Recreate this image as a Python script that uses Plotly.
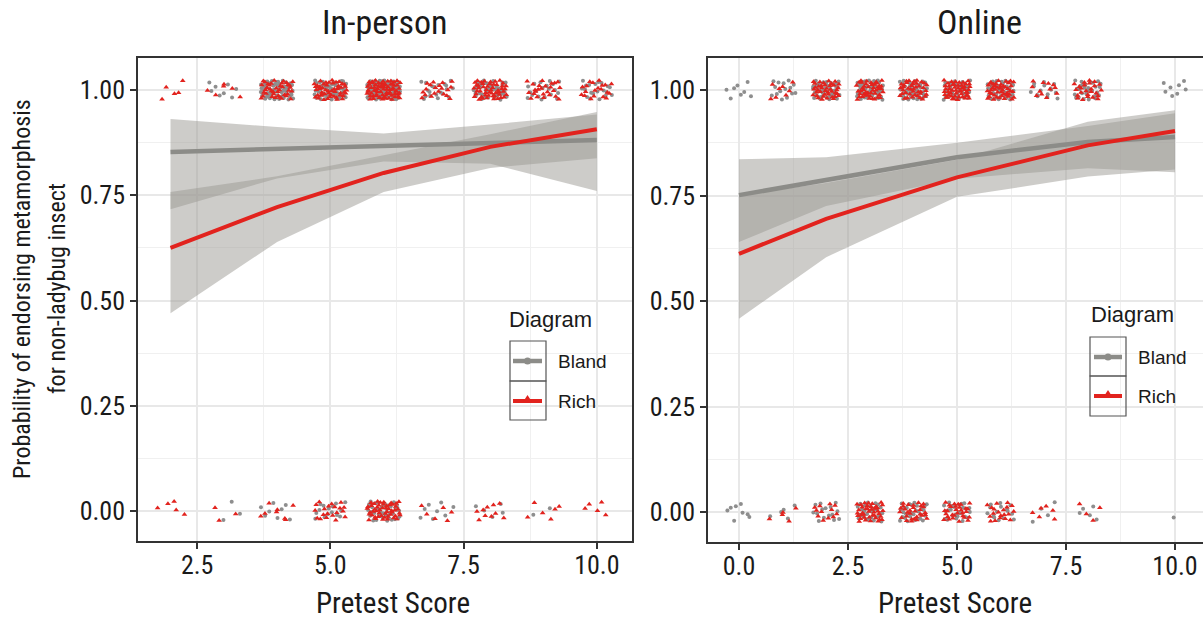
import plotly.graph_objects as go

# ---------------- data ----------------
# In-person panel: pretest scores and counts of participants per outcome
ip_scores = [2, 3, 4, 5, 6, 7, 8, 9, 10]
ip_bland_yes = [0, 8, 60, 50, 90, 20, 40, 20, 20]
ip_rich_yes = [5, 6, 40, 50, 70, 20, 50, 25, 20]
ip_bland_no = [0, 3, 8, 15, 40, 8, 5, 2, 0]
ip_rich_no = [5, 3, 8, 20, 50, 6, 10, 6, 5]

# Online panel
on_scores = [0, 1, 2, 3, 4, 5, 6, 7, 8, 9, 10]
on_bland_yes = [8, 15, 40, 45, 50, 40, 40, 15, 30, 0, 8]
on_rich_yes = [0, 8, 40, 45, 40, 50, 45, 12, 25, 0, 0]
on_bland_no = [8, 5, 15, 30, 30, 25, 15, 4, 5, 0, 1]
on_rich_no = [0, 5, 12, 40, 30, 30, 20, 6, 4, 0, 0]

# fitted probabilities with confidence bands
ip_fit_x = [2, 4, 6, 8, 10]
ip_bland_fit = [0.853, 0.860, 0.867, 0.874, 0.881]
ip_bland_lo = [0.717, 0.790, 0.830, 0.825, 0.760]
ip_bland_hi = [0.931, 0.912, 0.897, 0.918, 0.942]
ip_rich_fit = [0.625, 0.722, 0.803, 0.865, 0.907]
ip_rich_lo = [0.470, 0.639, 0.758, 0.815, 0.838]
ip_rich_hi = [0.758, 0.795, 0.845, 0.895, 0.948]

on_fit_x = [0, 2, 5, 8, 10]
on_bland_fit = [0.751, 0.788, 0.841, 0.877, 0.889]
on_bland_lo = [0.640, 0.725, 0.790, 0.815, 0.805]
on_bland_hi = [0.836, 0.841, 0.875, 0.915, 0.945]
on_rich_fit = [0.612, 0.695, 0.793, 0.869, 0.903]
on_rich_lo = [0.458, 0.604, 0.747, 0.795, 0.812]
on_rich_hi = [0.750, 0.780, 0.835, 0.925, 0.952]

y_ticks = [0.0, 0.25, 0.5, 0.75, 1.0]

# ---------------- styling ----------------
GRAY_PT = "#8e8e8e"
GRAY_LINE = "#8c8c88"
RED = "#e2231e"
RIBBON = "rgba(155,154,148,0.5)"
AXIS_FONT = "Liberation Sans Narrow, Roboto Condensed, DejaVu Sans Condensed, Arial Narrow, sans-serif"
REG_FONT = "Liberation Sans, Arial, Helvetica, sans-serif"
TXT = "#1a1a1a"

W, H = 1203, 619


def px_x(p):
    return p / W


def px_y(p):
    return 1 - p / H


def halton(i, base):
    f, r = 1.0, 0.0
    while i > 0:
        f /= base
        r += f * (i % base)
        i //= base
    return r


def jittered(scores, counts, outcome, start):
    xs, ys = [], []
    idx = start
    for s, c in zip(scores, counts):
        for _ in range(c):
            idx += 1
            xs.append(s + (halton(idx, 2) - 0.5) * 0.62)
            ys.append(outcome + (halton(idx, 3) - 0.5) * 0.046)
    return xs, ys


fig = go.Figure()


def add_panel(xa, ya, scores, by, ry, bn, rn, fx, bf, bl, bh, rf, rl, rh, start):
    for counts_list, outcome, color, sym, size, off in [
        (by, 1, GRAY_PT, "circle", 4, start),
        (bn, 0, GRAY_PT, "circle", 4, start + 700),
        (ry, 1, RED, "triangle-up", 5, start + 1400),
        (rn, 0, RED, "triangle-up", 5, start + 2100),
    ]:
        px, py = jittered(scores, counts_list, outcome, off)
        fig.add_trace(go.Scatter(x=px, y=py, mode="markers", xaxis=xa, yaxis=ya,
                                 marker=dict(color=color, symbol=sym, size=size, line=dict(width=0)),
                                 showlegend=False, hoverinfo="skip"))
    for lo, hi in [(bl, bh), (rl, rh)]:
        fig.add_trace(go.Scatter(x=list(fx) + list(fx)[::-1], y=list(lo) + list(hi)[::-1],
                                 fill="toself", fillcolor=RIBBON, line=dict(width=0),
                                 mode="lines", xaxis=xa, yaxis=ya, showlegend=False, hoverinfo="skip"))
    fig.add_trace(go.Scatter(x=fx, y=bf, mode="lines", line=dict(color=GRAY_LINE, width=4.5),
                             xaxis=xa, yaxis=ya, showlegend=False))
    fig.add_trace(go.Scatter(x=fx, y=rf, mode="lines", line=dict(color=RED, width=4),
                             xaxis=xa, yaxis=ya, showlegend=False))


add_panel("x", "y", ip_scores, ip_bland_yes, ip_rich_yes, ip_bland_no, ip_rich_no,
          ip_fit_x, ip_bland_fit, ip_bland_lo, ip_bland_hi, ip_rich_fit, ip_rich_lo, ip_rich_hi, 0)
add_panel("x2", "y2", on_scores, on_bland_yes, on_rich_yes, on_bland_no, on_rich_no,
          on_fit_x, on_bland_fit, on_bland_lo, on_bland_hi, on_rich_fit, on_rich_lo, on_rich_hi, 5000)

common_axis = dict(showline=True, linecolor="#333333", linewidth=1.5,
                   ticks="outside", ticklen=6, tickwidth=1.5, tickcolor="#333333",
                   tickfont=dict(family=AXIS_FONT, size=26, color=TXT),
                   showgrid=True, gridcolor="#e8e8e8", gridwidth=1.5, zeroline=False)
minor = dict(showgrid=True, gridcolor="#f0f0f0", gridwidth=1, ticks="")

fig.update_layout(
    width=W, height=H, margin=dict(l=0, r=0, t=0, b=0),
    paper_bgcolor="white", plot_bgcolor="white", showlegend=False,
    xaxis=dict(domain=[px_x(138), px_x(632)], range=[1.39, 10.66], tickvals=[2.5, 5.0, 7.5, 10.0],
               tickformat=".1f", mirror=True, ticklabelstandoff=-6,
               minor=dict(dtick=1.25, tick0=0, **minor), **common_axis),
    yaxis=dict(domain=[px_y(541), px_y(58)], range=[-0.071, 1.076], tickvals=y_ticks,
               tickformat=".2f", mirror=True, minor=dict(dtick=0.125, tick0=0, **minor), **common_axis),
    xaxis2=dict(domain=[px_x(708), 1.0], range=[-0.71, 10.642], tickvals=[0, 2.5, 5.0, 7.5, 10.0],
                tickformat=".1f", mirror=True, anchor="y2", ticklabelstandoff=-6,
                minor=dict(dtick=1.25, tick0=0, **minor), **common_axis),
    yaxis2=dict(domain=[px_y(542), px_y(58)], range=[-0.071, 1.076], tickvals=y_ticks,
                tickformat=".2f", anchor="x2", minor=dict(dtick=0.125, tick0=0, **minor), **common_axis),
)

ann = []


def text(t, x, y, size, family=AXIS_FONT, xanchor="center", angle=0, yanchor="middle"):
    ann.append(dict(text=t, x=px_x(x), y=px_y(y), xref="paper", yref="paper",
                    xanchor=xanchor, yanchor=yanchor, textangle=angle, showarrow=False,
                    font=dict(family=family, size=size, color=TXT)))


text("In-person", 385, 0, 34, yanchor="top")
text("Online", 979, 0, 34, yanchor="top")
text("Pretest Score", 393, 603, 29)
text("Pretest Score", 955, 603, 29)
text("Probability of endorsing metamorphosis", 22, 289, 24, angle=-90)
text("for non-ladybug insect", 57, 289, 24, angle=-90)

shapes = []


def add_legend(bx0, bx1, by0, bsep, by1, k0, k1, yb, yr, lx, tx, ty):
    text("Diagram", tx, ty, 22, family=REG_FONT, xanchor="left")
    for (a, b) in [(by0, bsep), (bsep, by1)]:
        shapes.append(dict(type="rect", xref="paper", yref="paper", x0=px_x(bx0), x1=px_x(bx1),
                           y0=px_y(a), y1=px_y(b), line=dict(color="#555555", width=1.2)))
    shapes.append(dict(type="line", xref="paper", yref="paper", x0=px_x(k0), x1=px_x(k1),
                       y0=px_y(yb), y1=px_y(yb), line=dict(color=GRAY_LINE, width=4.5)))
    shapes.append(dict(type="line", xref="paper", yref="paper", x0=px_x(k0), x1=px_x(k1),
                       y0=px_y(yr), y1=px_y(yr), line=dict(color=RED, width=4)))
    cx = (k0 + k1) / 2
    shapes.append(dict(type="circle", xref="paper", yref="paper", x0=px_x(cx - 3.5), x1=px_x(cx + 3.5),
                       y0=px_y(yb - 3.5), y1=px_y(yb + 3.5), fillcolor=GRAY_LINE, line=dict(width=0)))
    shapes.append(dict(type="path", xref="paper", yref="paper",
                       path=f"M {px_x(cx-4.5)} {px_y(yr+1)} L {px_x(cx+4.5)} {px_y(yr+1)} L {px_x(cx)} {px_y(yr-6)} Z",
                       fillcolor=RED, line=dict(width=0)))
    text("Bland", lx, yb, 19, family=REG_FONT, xanchor="left")
    text("Rich", lx, yr, 19, family=REG_FONT, xanchor="left")


add_legend(510, 546, 341, 381, 420, 513, 542, 361, 401, 556, 507, 319)
add_legend(1090, 1126, 337, 376, 416, 1094, 1122, 357, 396, 1136, 1089, 314)

fig.update_layout(annotations=ann, shapes=shapes)
fig.write_html("out.html", config={"displayModeBar": False},
               post_script="document.body.style.margin='0px';")
